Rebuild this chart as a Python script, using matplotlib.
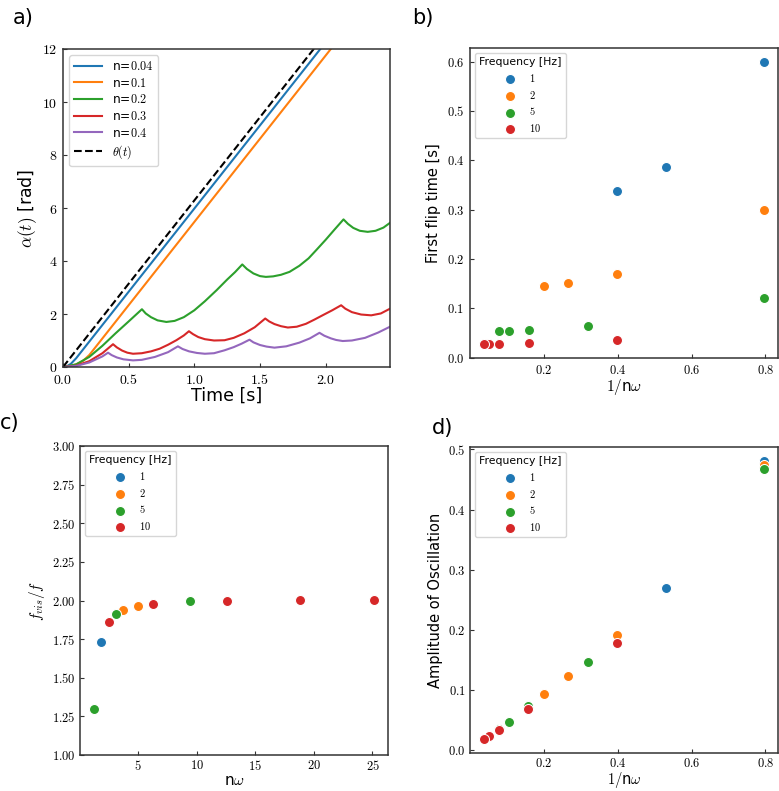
import matplotlib
matplotlib.use('Agg')
import matplotlib.pyplot as plt
from matplotlib.ticker import FuncFormatter

plt.rcParams['mathtext.fontset'] = 'cm'
plt.rcParams['font.family'] = ['DejaVu Sans']

# ---- panel a: alpha(t) curves ----
t_n004 = [0, 0.03, 0.06, 0.1, 2.49]
a_n004 = [0, 0.03, 0.12, 0.33, 15.33]
t_n01 = [0, 0.05, 0.1, 0.15, 0.2, 2.49]
a_n01 = [0, 0.03, 0.1, 0.22, 0.45, 14.83]
t_n02 = [0, 0.1, 0.2, 0.3, 0.4, 0.5, 0.601, 0.63, 0.67, 0.72, 0.787, 0.85, 0.92, 1.0,
         1.08, 1.17, 1.25, 1.31, 1.365, 1.4, 1.45, 1.5, 1.545, 1.6, 1.66, 1.725, 1.8,
         1.87, 1.93, 2.0, 2.07, 2.136, 2.17, 2.21, 2.26, 2.32, 2.38, 2.44, 2.49]
a_n02 = [0, 0.1, 0.38, 0.8, 1.27, 1.72, 2.18, 2.02, 1.88, 1.76, 1.70, 1.74, 1.88, 2.14,
         2.48, 2.9, 3.3, 3.58, 3.87, 3.7, 3.53, 3.43, 3.40, 3.42, 3.48, 3.59, 3.82,
         4.1, 4.42, 4.8, 5.2, 5.57, 5.4, 5.25, 5.14, 5.10, 5.14, 5.26, 5.44]
t_n03 = [0, 0.1, 0.2, 0.3, 0.381, 0.41, 0.45, 0.49, 0.533, 0.6, 0.67, 0.736, 0.8, 0.863,
         0.92, 0.959, 0.99, 1.03, 1.08, 1.15, 1.23, 1.3, 1.38, 1.46, 1.54, 1.57, 1.61,
         1.66, 1.712, 1.78, 1.85, 1.915, 1.98, 2.05, 2.118, 2.15, 2.2, 2.27, 2.347, 2.42, 2.49]
a_n03 = [0, 0.05, 0.22, 0.52, 0.86, 0.74, 0.62, 0.54, 0.50, 0.52, 0.59, 0.69, 0.84, 1.01,
         1.19, 1.35, 1.24, 1.13, 1.05, 1.0, 1.01, 1.1, 1.27, 1.5, 1.83, 1.72, 1.62,
         1.54, 1.49, 1.52, 1.63, 1.79, 1.96, 2.14, 2.33, 2.2, 2.07, 1.98, 1.95, 2.02, 2.2]
t_n04 = [0, 0.1, 0.2, 0.3, 0.343, 0.37, 0.41, 0.46, 0.533, 0.6, 0.7, 0.8, 0.875, 0.91,
         0.96, 1.02, 1.08, 1.15, 1.23, 1.3, 1.36, 1.42, 1.45, 1.5, 1.55, 1.61, 1.7, 1.8,
         1.88, 1.953, 1.99, 2.04, 2.08, 2.13, 2.2, 2.3, 2.4, 2.49]
a_n04 = [0, 0.04, 0.17, 0.4, 0.54, 0.45, 0.36, 0.29, 0.25, 0.27, 0.38, 0.56, 0.78, 0.68,
         0.59, 0.53, 0.5, 0.52, 0.63, 0.75, 0.88, 1.03, 0.93, 0.83, 0.77, 0.73, 0.78, 0.92,
         1.08, 1.29, 1.18, 1.08, 1.02, 0.98, 1.0, 1.1, 1.3, 1.52]
t_theta = [0, 2.49]
a_theta = [0, 15.65]

# ---- panels b-d: scatter per frequency ----
freqs = [1, 2, 5, 10]
colors = ['C0', 'C1', 'C2', 'C3']

# b) first flip time vs 1/(n w)
flip_x = {1: [0.796, 0.531, 0.399],
          2: [0.796, 0.399, 0.266, 0.2],
          5: [0.796, 0.319, 0.16, 0.106, 0.079],
          10: [0.399, 0.16, 0.079, 0.053, 0.039]}
flip_y = {1: [0.599, 0.387, 0.338],
          2: [0.300, 0.170, 0.152, 0.145],
          5: [0.122, 0.065, 0.057, 0.055, 0.054],
          10: [0.036, 0.030, 0.028, 0.028, 0.028]}

# c) f_vis/f vs n w
fvis_x = {1: [1.885],
          2: [3.77, 5.03],
          5: [1.257, 3.14, 9.42],
          10: [2.513, 6.28, 12.57, 18.85, 25.13]}
fvis_y = {1: [1.734],
          2: [1.940, 1.966],
          5: [1.300, 1.910, 1.994],
          10: [1.858, 1.979, 1.998, 2.002, 2.002]}

# d) amplitude vs 1/(n w)
amp_x = {1: [0.796, 0.531],
         2: [0.796, 0.399, 0.266, 0.2],
         5: [0.796, 0.319, 0.159, 0.106, 0.0796],
         10: [0.399, 0.159, 0.0796, 0.053, 0.039]}
amp_y = {1: [0.481, 0.269],
         2: [0.474, 0.191, 0.124, 0.093],
         5: [0.468, 0.147, 0.073, 0.047, 0.036],
         10: [0.178, 0.068, 0.034, 0.023, 0.0185]}

W, H = 779, 791
fig = plt.figure(figsize=(W / 100, H / 100), dpi=100)


def box(l, r, t, b):
    # pixel box -> figure fraction
    return [l / W, (H - b) / H, (r - l) / W, (b - t) / H]


def style(ax, fx, fy, size, pad=4):
    for s in ax.spines.values():
        s.set_color('#333333')
        s.set_linewidth(1.1)
    ax.tick_params(direction='in', length=3, width=0.8, color='#333333',
                   labelsize=size, pad=pad)
    ax.xaxis.set_major_formatter(FuncFormatter(lambda v, p: '$' + fx.format(v) + '$'))
    ax.yaxis.set_major_formatter(FuncFormatter(lambda v, p: '$' + fy.format(v) + '$'))


ax_a = fig.add_axes(box(63, 390, 49, 367))
ax_b = fig.add_axes(box(470, 778, 48, 358))
ax_c = fig.add_axes(box(80, 388, 446, 755))
ax_d = fig.add_axes(box(470, 778, 447, 753))

# panel a
ax_a.plot(t_n004, a_n004, color='C0', lw=1.5, label='n=$0.04$')
ax_a.plot(t_n01, a_n01, color='C1', lw=1.5, label='n=$0.1$')
ax_a.plot(t_n02, a_n02, color='C2', lw=1.5, label='n=$0.2$')
ax_a.plot(t_n03, a_n03, color='C3', lw=1.5, label='n=$0.3$')
ax_a.plot(t_n04, a_n04, color='C4', lw=1.5, label='n=$0.4$')
ax_a.plot(t_theta, a_theta, color='k', ls='--', lw=1.5, label=r'$\theta(t)$')
ax_a.set_xlim(0, 2.49)
ax_a.set_ylim(0, 12)
ax_a.set_xticks([0, 0.5, 1.0, 1.5, 2.0])
ax_a.set_yticks([0, 2, 4, 6, 8, 10, 12])
style(ax_a, '{:.1f}', '{:.0f}', 10)
ax_a.set_xlabel('Time [s]', fontsize=12.5, labelpad=0)
ax_a.set_ylabel(r'$\alpha(t)$ [rad]', fontsize=12.5, labelpad=2)
ax_a.legend(loc='upper left', fontsize=8.8, labelspacing=0.3, handlelength=2.3)


def scatter_panel(ax, xs, ys):
    for f, c in zip(freqs, colors):
        ax.scatter(xs[f], ys[f], s=52, color=c, edgecolor='white', linewidth=0.75,
                   label='$' + str(f) + '$')
    leg = ax.legend(title='Frequency [Hz]', loc='upper left', fontsize=7.5,
                    title_fontsize=7.8, labelspacing=0.45)
    return leg


scatter_panel(ax_b, flip_x, flip_y)
ax_b.set_xticks([0.2, 0.4, 0.6, 0.8])
ax_b.set_yticks([0.0, 0.1, 0.2, 0.3, 0.4, 0.5, 0.6])
style(ax_b, '{:.1f}', '{:.1f}', 9)
ax_b.set_xlabel(r'$1/$n$\omega$', fontsize=11, labelpad=0)
ax_b.set_ylabel('First flip time [s]', fontsize=10.5)

scatter_panel(ax_c, fvis_x, fvis_y)
ax_c.set_ylim(1.0, 3.0)
ax_c.set_xticks([5, 10, 15, 20, 25])
ax_c.set_yticks([1.0, 1.25, 1.5, 1.75, 2.0, 2.25, 2.5, 2.75, 3.0])
style(ax_c, '{:.0f}', '{:.2f}', 9, pad=3)
ax_c.set_xlabel(r'n$\omega$', fontsize=11, labelpad=0)
ax_c.set_ylabel(r'$f_{vis}/f$', fontsize=11)

scatter_panel(ax_d, amp_x, amp_y)
ax_d.set_xticks([0.2, 0.4, 0.6, 0.8])
ax_d.set_yticks([0.0, 0.1, 0.2, 0.3, 0.4, 0.5])
style(ax_d, '{:.1f}', '{:.1f}', 9, pad=3)
ax_d.set_xlabel(r'$1/$n$\omega$', fontsize=10.5, labelpad=0)
ax_d.set_ylabel('Amplitude of Oscillation', fontsize=10.5)

# panel letters
fig.text(13 / W, 1 - 8 / H, 'a)', fontsize=15, va='top')
fig.text(412 / W, 1 - 8 / H, 'b)', fontsize=15, va='top')
fig.text(0 / W, 1 - 413 / H, 'c)', fontsize=15, va='top')
fig.text(432 / W, 1 - 418 / H, 'd)', fontsize=15, va='top')

fig.savefig('out.png', dpi=100)
